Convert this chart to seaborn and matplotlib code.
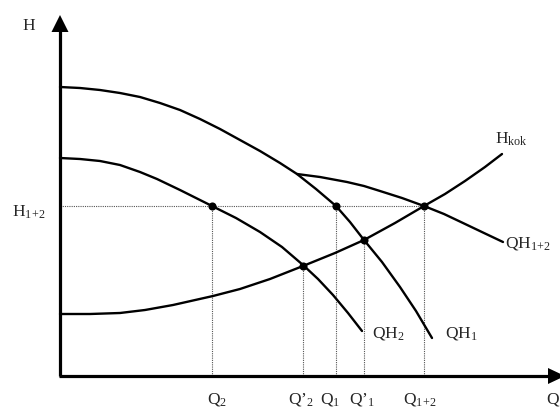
import matplotlib
matplotlib.use("Agg")
import matplotlib.pyplot as plt
import seaborn as sns

# Pump characteristic curves (Q, H) in arbitrary units
qh1_q = [0, 2, 4, 6, 8, 10, 12, 14, 16, 18, 20, 22, 23.7, 25.6, 27.6, 29.0, 30.4, 32.2, 34.0, 35.6, 37.2]
qh1_h = [28.9, 28.8, 28.6, 28.3, 27.9, 27.3, 26.6, 25.7, 24.7, 23.6, 22.5, 21.3, 20.2, 18.7, 17.0, 15.4, 13.6, 11.4, 8.9, 6.5, 3.8]

qh2_q = [0, 2, 4, 6, 8, 9.7, 12, 13.6, 15.2, 17.6, 20, 22.2, 24.3, 25.8, 27.3, 28.8, 30.2]
qh2_h = [21.8, 21.7, 21.5, 21.1, 20.4, 19.7, 18.6, 17.8, 17.0, 15.8, 14.4, 12.9, 11.1, 9.7, 8.1, 6.3, 4.5]

# Combined characteristic of both pumps
qh12_q = [23.7, 26, 28.7, 30.4, 32, 34.2, 36.4, 38.4, 40.3, 42.4, 44.3]
qh12_h = [20.2, 19.9, 19.4, 19.0, 18.5, 17.8, 17.0, 16.2, 15.3, 14.3, 13.4]

# System (pipeline) curve
kok_q = [0, 3, 6, 8.5, 11.3, 15.3, 18, 21, 24.3, 27.5, 30.4, 33.5, 36.4, 38.5, 40.5, 42.5, 44.2]
kok_h = [6.2, 6.2, 6.3, 6.6, 7.1, 8.0, 8.7, 9.7, 11.0, 12.3, 13.6, 15.3, 17.0, 18.2, 19.5, 20.9, 22.2]

# Operating points
h12 = 17.0
pt_names = ["Q2", "Q'2", "Q1", "Q'1", "Q1+2"]
pt_q = [15.2, 24.3, 27.6, 30.4, 36.4]
pt_h = [17.0, 11.0, 17.0, 13.6, 17.0]
pt_labels = [r"$\mathrm{Q}_{2}$", r"$\mathrm{Q’}_{2}$", r"$\mathrm{Q}_{1}$",
             r"$\mathrm{Q’}_{1}$", r"$\mathrm{Q}_{1\!+\!2}$"]
pt_label_q = [15.7, 24.1, 27.0, 30.2, 36.0]

sns.set_style("white")
plt.rcParams["font.family"] = ["Liberation Serif", "DejaVu Serif"]
plt.rcParams["mathtext.fontset"] = "custom"
plt.rcParams["mathtext.rm"] = "Liberation Serif"
plt.rcParams["mathtext.it"] = "Liberation Serif:italic"

fig = plt.figure(figsize=(5.6, 4.12), dpi=100)
ax = fig.add_axes([0, 0, 1, 1])
ax.set_xlim(-6.0, 50.0)
ax.set_ylim(-3.6, 37.6)
ax.axis("off")

# Dotted guide lines
guide = dict(color="#555555", lw=0.8, linestyle=(0, (1, 1)), zorder=1)
ax.plot([0, pt_q[-1]], [h12, h12], **guide)
for q, h in zip(pt_q, pt_h):
    ax.plot([q, q], [0, h], **guide)

# Curves
curve = dict(color="black", lw=1.7, estimator=None, legend=False, zorder=3)
sns.lineplot(x=qh1_q, y=qh1_h, ax=ax, **curve)
sns.lineplot(x=qh2_q, y=qh2_h, ax=ax, **curve)
sns.lineplot(x=qh12_q, y=qh12_h, ax=ax, **curve)
sns.lineplot(x=kok_q, y=kok_h, ax=ax, **curve)

# Operating points
sns.scatterplot(x=pt_q, y=pt_h, ax=ax, color="black", s=34,
                edgecolor="black", linewidth=0, zorder=4, legend=False)

# Axes with arrow heads
ax.plot([0, 0], [0, 34.6], color="black", lw=2.3, solid_capstyle="butt", zorder=5)
ax.plot([-0.15, 49.0], [0, 0], color="black", lw=2.3, solid_capstyle="butt", zorder=5)
ax.fill([-0.85, 0.85, 0], [34.4, 34.4, 36.1], color="black", zorder=5, lw=0)
ax.fill([48.8, 48.8, 50.5], [0.8, -0.8, 0], color="black", zorder=5, lw=0)

fs = 12.5
ax.text(-3.15, 34.6, "H", fontsize=fs, ha="center", va="baseline")
ax.text(48.6, -2.8, "Q", fontsize=fs, ha="left", va="baseline")
ax.text(-4.8, 15.9, r"$\mathrm{H}_{1\!+\!2}$", fontsize=fs, ha="left", va="baseline")
for lab, q in zip(pt_labels, pt_label_q):
    ax.text(q, -2.8, lab, fontsize=fs, ha="center", va="baseline")

ax.text(43.5, 23.2, r"$\mathrm{H}_{\mathrm{kok}}$", fontsize=fs, ha="left", va="baseline")
ax.text(44.5, 12.9, r"$\mathrm{QH}_{1\!+\!2}$", fontsize=fs, ha="left", va="baseline")
ax.text(31.2, 3.9, r"$\mathrm{QH}_{2}$", fontsize=fs, ha="left", va="baseline")
ax.text(38.5, 3.9, r"$\mathrm{QH}_{1}$", fontsize=fs, ha="left", va="baseline")

fig.savefig("out.png", dpi=100)
